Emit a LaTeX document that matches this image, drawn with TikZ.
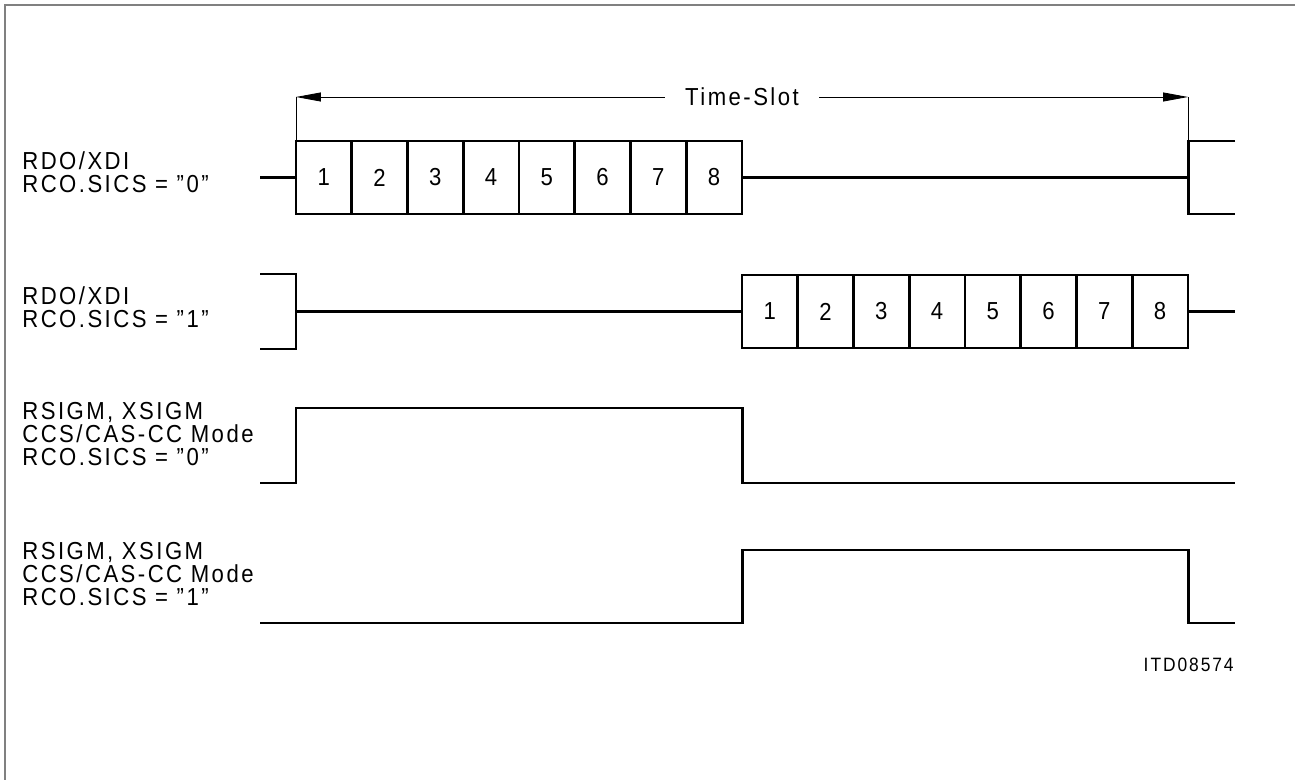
\documentclass[tikz,border=0pt]{standalone}
\usepackage{fontspec}
\setmainfont{Liberation Sans}[LetterSpace=10, FakeStretch=0.9]
\usetikzlibrary{arrows.meta}

\begin{document}
\begin{tikzpicture}[x=0.02cm,y=-0.02cm]
            \tikzstyle{bit}=[draw, line width=1.5pt, minimum width=1.115cm, minimum height=1.46cm, inner sep=0pt, font=\fontsize{14}{15}\selectfont]
            \tikzstyle{sig}=[line width=1.7pt, line join=miter]
            \tikzstyle{lbl}=[anchor=west, align=left, inner sep=0pt, font=\fontsize{14}{13}\selectfont]
            \tikzstyle{dim}=[line width=0.5pt, -{Triangle[length=0.5cm, width=0.18cm]}]
            \useasboundingbox (0,0) rectangle (1295,780);
            % frame
            \draw[gray, line width=1.2pt] (5,780) -- (5,5) -- (1295,5);
            % time slot
            \coordinate (tl) at (296,97);
            \coordinate (tr) at (1188,97);
            \node[inner xsep=0.4cm, font=\fontsize{14}{15}\selectfont] (ts) at (742,97) {Time-Slot};
            \draw[line width=0.5pt] (tl) -- (296,141);
            \draw[line width=0.5pt] (tr) -- (1188,141);
            \draw[dim] (ts) -- (tl);
            \draw[dim] (ts) -- (tr);
            % labels
            \node[lbl] (l1) at (22,172) {RDO/XDI\\RCO.SICS = ”0”};
            \node[lbl] (l2) at (22,307) {RDO/XDI\\RCO.SICS = ”1”};
            \node[lbl] (l3) at (22,434) {RSIGM, XSIGM\\CCS/CAS-CC Mode\\RCO.SICS = ”0”};
            \node[lbl] (l4) at (22,574) {RSIGM, XSIGM\\CCS/CAS-CC Mode\\RCO.SICS = ”1”};
            % bit boxes
            \foreach \i in {1,...,8} {
                \node[bit] (a\i) at ({296+55.75*(\i-0.5)},177.5) {\i};
                \node[bit] (b\i) at ({742+55.75*(\i-0.5)},311.5) {\i};
            }
            % row 1
            \draw[sig] (260,177.5) -- (a1.west);
            \draw[sig] (a8.east) -- (1188,177.5);
            \draw[sig] (1235,141) -- (1188,141) -- (1188,214) -- (1235,214);
            % row 2
            \draw[sig] (260,274) -- (296,274) -- (296,349) -- (260,349);
            \draw[sig] (296,311.5) -- (b1.west);
            \draw[sig] (b8.east) -- (1235,311.5);
            % row 3
            \draw[sig] (260,483) -- (296,483) -- (296,408) -- (742,408) -- (742,483) -- (1235,483);
            % row 4
            \draw[sig] (260,623) -- (742,623) -- (742,550) -- (1188,550) -- (1188,623) -- (1235,623);
            \node[anchor=east, inner sep=0pt, font=\fontsize{11}{12}\selectfont] (id) at (1234,665) {ITD08574};
        \end{tikzpicture}
\end{document}
